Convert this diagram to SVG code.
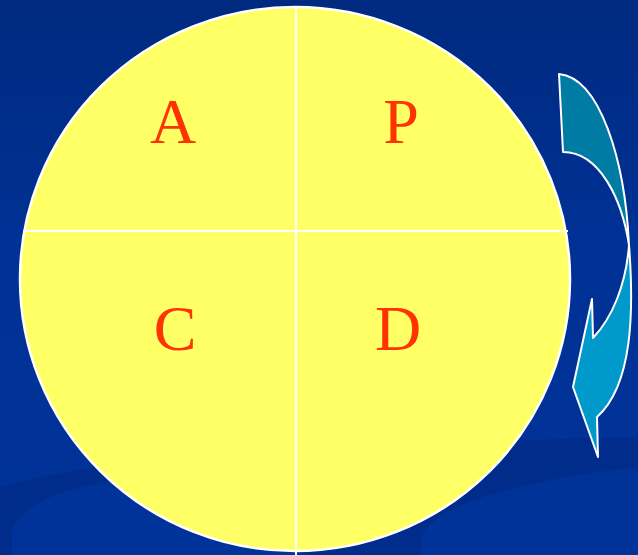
<svg xmlns="http://www.w3.org/2000/svg" width="638" height="555" viewBox="0 0 638 555">
<defs>
<linearGradient id="bg" x1="0" y1="0" x2="0" y2="1">
<stop offset="0" stop-color="#002a80"/>
<stop offset="0.45" stop-color="#003195"/>
<stop offset="1" stop-color="#003399"/>
</linearGradient>
<style>
.lbl{font-family:"Liberation Serif","Times New Roman",serif;font-size:64px;fill:#ff3300;text-anchor:middle}
.div{stroke:#ffffff;stroke-width:2;fill:none}
.arr{stroke:#ffffff;stroke-width:2;stroke-linejoin:round}
</style>
</defs>
<rect width="638" height="555" fill="url(#bg)"/>
<path d="M0,487 C120,452 350,445 638,437 L638,467 C540,478 440,500 422,535 L422,555 L0,555 Z" fill="#002d8b"/>
<path d="M12,555 L12,530 C25,500 70,488 110,482 C180,472 250,470 300,470 L300,555 Z" fill="#003399"/>
<g id="circle">
<ellipse cx="295" cy="279" rx="275" ry="272" fill="#ffff66" stroke="#ffffff" stroke-width="2.5"/>
<line class="div" x1="23" y1="231" x2="568" y2="231"/>
<line class="div" x1="296" y1="8" x2="296" y2="555"/>
</g>
<g id="A"><text class="lbl" x="173" y="143">A</text></g>
<g id="P"><text class="lbl" x="401" y="143">P</text></g>
<g id="C"><text class="lbl" x="175" y="350">C</text></g>
<g id="D"><text class="lbl" x="398" y="350">D</text></g>
<g id="connectors">
<path class="arr" fill="#007ba3" d="M559,74 C600,78 625,160 629,245 C622,200 600,152 563,152 Z"/>
<path class="arr" fill="#0099cc" d="M629,245 C634,310 633,385 597,417 L598,457 L573,387 L592,299 L593,338 C612,318 626,285 629,245 Z"/>
</g>
</svg>
